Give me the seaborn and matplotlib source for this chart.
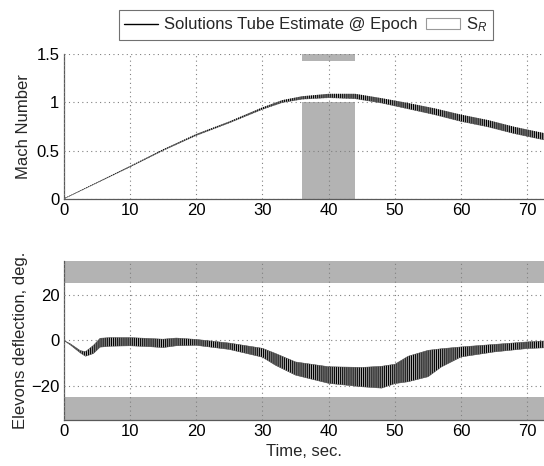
import numpy as np
import pandas as pd
import matplotlib
matplotlib.use("Agg")
import matplotlib.pyplot as plt
import seaborn as sns
from matplotlib.lines import Line2D
from matplotlib.patches import Patch, Rectangle

# ---------------- data ----------------
t_mach = [0, 5, 10, 15, 20, 25, 30, 33, 36, 40, 44, 48, 52, 56, 60, 64, 68, 72.5]
mach_lo = [0.0, 0.165, 0.33, 0.50, 0.655, 0.785, 0.925, 0.995, 1.03, 1.045, 1.035,
           0.99, 0.93, 0.87, 0.80, 0.745, 0.675, 0.61]
mach_hi = [0.005, 0.172, 0.34, 0.512, 0.67, 0.80, 0.945, 1.02, 1.06, 1.085, 1.085,
           1.04, 0.99, 0.935, 0.87, 0.815, 0.745, 0.68]

t_elev = [0, 1, 2.5, 3.3, 4.5, 5.5, 7, 10, 13, 15, 17, 20, 25, 30, 32, 35, 40, 45,
          48, 50, 52, 55, 57, 60, 65, 70, 72.5]
elev_hi = [0, -1.5, -4.5, -5.0, -2.2, 0.9, 1.2, 1.2, 0.8, 0.5, 1.0, 0.4, -1.2, -3.5,
           -5.8, -9.5, -11.6, -11.9, -11.4, -10.5, -7.0, -4.4, -3.7, -2.9, -1.8, -0.7, -0.3]
elev_lo = [0, -2.0, -5.5, -7.0, -5.8, -3.0, -2.6, -2.4, -2.8, -3.2, -2.4, -2.2, -4.0,
           -7.4, -11.0, -15.3, -18.9, -20.4, -21.0, -19.0, -18.2, -16.0, -11.7, -7.3,
           -5.1, -3.6, -3.3]

# S_R regions
sr_mach_t = [36, 44]
sr_mach_low = [0, 1.0]
sr_mach_high = [1.42, 1.5]
sr_elev_upper = [25, 35]
sr_elev_lower = [-35, -25]

x_ticks = [0, 10, 20, 30, 40, 50, 60, 70]
mach_ticks = [0, 0.5, 1, 1.5]
mach_ticklabels = ["0", "0.5", "1", "1.5"]
elev_ticks = [-20, 0, 20]

# ---------------- style ----------------
sns.set_theme(style="white")
plt.rcParams["font.family"] = ["Liberation Sans", "DejaVu Sans"]
plt.rcParams["mathtext.fontset"] = "custom"
plt.rcParams["mathtext.rm"] = "Liberation Sans"
plt.rcParams["mathtext.it"] = "Liberation Sans:italic"
plt.rcParams["hatch.linewidth"] = 0.8
FS = 12
GRAY = "#b3b3b3"
SPINE = "0.35"

fig = plt.figure(figsize=(5.44, 4.66), dpi=100)
ax1 = fig.add_axes([0.117, 0.573, 0.883, 0.312])
ax2 = fig.add_axes([0.117, 0.0987, 0.883, 0.342])

df_m = pd.DataFrame({"t": t_mach, "lo": mach_lo, "hi": mach_hi})
df_e = pd.DataFrame({"t": t_elev, "lo": elev_lo, "hi": elev_hi})

# --- top: Mach number ---
ax1.add_patch(Rectangle((sr_mach_t[0], sr_mach_low[0]), sr_mach_t[1] - sr_mach_t[0],
                        sr_mach_low[1] - sr_mach_low[0], facecolor=GRAY, edgecolor="none", zorder=1))
ax1.add_patch(Rectangle((sr_mach_t[0], sr_mach_high[0]), sr_mach_t[1] - sr_mach_t[0],
                        sr_mach_high[1] - sr_mach_high[0], facecolor=GRAY, edgecolor="none",
                        zorder=1, clip_on=False))
ax1.fill_between(df_m["t"], df_m["lo"], df_m["hi"], facecolor="0.7", edgecolor="black",
                 hatch="|" * 8, linewidth=0, zorder=3)
sns.lineplot(data=df_m, x="t", y="lo", ax=ax1, color="0.25", lw=0.45,
             linestyle=(0, (1.5, 0.8)), zorder=4)
ax1.set_xlim(0, 72.5)
ax1.set_ylim(0, 1.5)
ax1.set_yticks(mach_ticks)
ax1.set_yticklabels(mach_ticklabels)
ax1.set_ylabel("Mach Number", fontsize=FS, labelpad=4)
ax1.set_xlabel("")

# --- bottom: elevons ---
ax2.axhspan(sr_elev_upper[0], sr_elev_upper[1], facecolor=GRAY, edgecolor="none", zorder=1)
ax2.axhspan(sr_elev_lower[0], sr_elev_lower[1], facecolor=GRAY, edgecolor="none", zorder=1)
ax2.fill_between(df_e["t"], df_e["lo"], df_e["hi"], facecolor="0.7", edgecolor="black",
                 hatch="|" * 8, linewidth=0, zorder=3)
sns.lineplot(data=df_e, x="t", y="hi", ax=ax2, color="0.3", lw=0.35, zorder=4)
sns.lineplot(data=df_e, x="t", y="lo", ax=ax2, color="0.3", lw=0.35, zorder=4)
ax2.set_xlim(0, 72.5)
ax2.set_ylim(-35, 35)
ax2.set_yticks(elev_ticks)
ax2.set_ylabel("Elevons deflection, deg.", fontsize=FS, labelpad=2)
ax2.set_xlabel("Time, sec.", fontsize=FS, labelpad=1)
ax2.xaxis.set_label_coords(0.5, -0.15)

for ax in (ax1, ax2):
    ax.set_xticks(x_ticks)
    ax.grid(True, linestyle=(0, (1, 3)), color="0.5", linewidth=0.8, zorder=2)
    ax.set_axisbelow(False)
    ax.tick_params(direction="in", length=3, width=0.8, color=SPINE, labelsize=FS,
                   labelcolor="black", pad=3)
    for s in ("top", "right"):
        ax.spines[s].set_visible(False)
    for s in ("left", "bottom"):
        ax.spines[s].set_color(SPINE)
        ax.spines[s].set_linewidth(0.9)

# --- legend ---
handles = [Line2D([0], [0], color="black", lw=1.0),
           Patch(facecolor="white", edgecolor="0.6", linewidth=0.8)]
labels = ["Solutions Tube Estimate @ Epoch", "S$_R$"]
leg = fig.legend(handles, labels, loc="center", bbox_to_anchor=(0.5625, 0.947), ncol=2,
                 frameon=True, fancybox=False, fontsize=FS, handlelength=2.0,
                 handletextpad=0.4, columnspacing=0.5, borderpad=0.35)
leg.get_frame().set_edgecolor("0.3")
leg.get_frame().set_linewidth(0.8)

fig.savefig("out.png", dpi=100)
